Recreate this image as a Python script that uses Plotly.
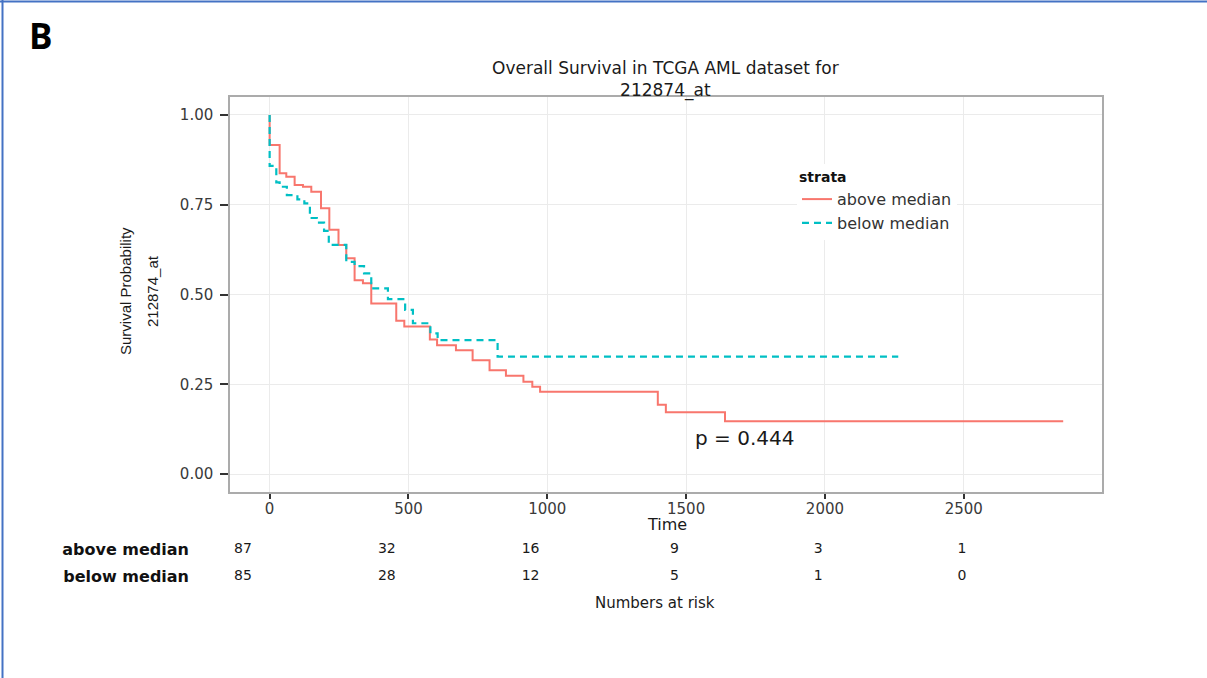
import plotly.graph_objects as go

# Kaplan-Meier step data (time in days, survival probability)
above_time = [0, 0, 36, 60, 90, 120, 150, 185, 215, 248, 276, 306, 336, 366, 456, 485,
              577, 603, 671, 731, 792, 851, 914, 946, 974, 1398, 1427, 1640, 2858]
above_surv = [1.0, 0.916, 0.838, 0.828, 0.805, 0.800, 0.786, 0.740, 0.680, 0.638, 0.601,
              0.540, 0.531, 0.475, 0.427, 0.411, 0.375, 0.359, 0.345, 0.317, 0.289, 0.274,
              0.257, 0.243, 0.229, 0.193, 0.172, 0.147, 0.147]

below_time = [0, 0, 24, 36, 62, 100, 125, 145, 170, 196, 213, 276, 306, 340, 366, 426,
              488, 516, 579, 605, 821, 2264]
below_surv = [1.0, 0.858, 0.812, 0.800, 0.777, 0.765, 0.754, 0.713, 0.700, 0.677, 0.638,
              0.591, 0.579, 0.559, 0.517, 0.487, 0.457, 0.420, 0.392, 0.373, 0.327, 0.327]

# Numbers at risk table
risk_times = [0, 500, 1000, 1500, 2000, 2500]
risk_above = [87, 32, 16, 9, 3, 1]
risk_below = [85, 28, 12, 5, 1, 0]
strata = ["above median", "below median"]

x_ticks = [0, 500, 1000, 1500, 2000, 2500]
y_ticks = [0.0, 0.25, 0.5, 0.75, 1.0]
y_ticktext = ["0.00", "0.25", "0.50", "0.75", "1.00"]

RED = "#F8766D"
CYAN = "#00BFC4"
W, H = 1207, 678
FONT = "DejaVu Sans"


def px_x(p):
    return p / W


def px_y(p):
    return 1 - p / H


fig = go.Figure()

fig.add_trace(go.Scatter(
    x=above_time, y=above_surv, mode="lines", name=strata[0],
    line=dict(color=RED, width=2, shape="hv"),
))
fig.add_trace(go.Scatter(
    x=below_time, y=below_surv, mode="lines", name=strata[1],
    line=dict(color=CYAN, width=2.2, shape="hv", dash="7px,5px"),
))

# risk table rows
for name, counts in ((strata[0], risk_above), (strata[1], risk_below)):
    fig.add_trace(go.Scatter(
        x=risk_times, y=[name] * len(risk_times), text=[str(v) for v in counts],
        mode="text", textfont=dict(family=FONT, size=14, color="#1a1a1a"),
        xaxis="x2", yaxis="y2", showlegend=False, hoverinfo="skip",
    ))

plot_left, plot_right, plot_top, plot_bottom = 230, 1102, 97, 492

axis_common = dict(
    showline=True, linecolor="#ababab", linewidth=1.5, mirror=True,
    showgrid=True, gridcolor="#ebebeb", gridwidth=1.2, zeroline=False,
    ticks="outside", tickcolor="#333333", tickwidth=1.5,
    tickfont=dict(family=FONT, size=15, color="#3a3a3a"), automargin=False,
)

fig.update_layout(
    width=W, height=H,
    margin=dict(l=0, r=0, t=0, b=0),
    paper_bgcolor="white", plot_bgcolor="white",
    showlegend=True,
    xaxis=dict(
        domain=[px_x(plot_left), px_x(plot_right)],
        range=[-142.75, 2997.75], tickvals=x_ticks, ticklen=5, ticklabelstandoff=-3,
        anchor="y", **axis_common,
    ),
    yaxis=dict(
        domain=[px_y(plot_bottom), px_y(plot_top)],
        range=[-0.05, 1.05], tickvals=y_ticks, ticktext=y_ticktext, ticklen=8,
        ticklabelstandoff=4, anchor="x", **axis_common,
    ),
    xaxis2=dict(
        domain=[px_x(plot_left), px_x(plot_right)],
        range=[-45.2, 2986.8], anchor="y2", visible=False,
    ),
    yaxis2=dict(
        domain=[px_y(589.5), px_y(535.5)], anchor="x2",
        type="category", categoryorder="array", categoryarray=[strata[1], strata[0]],
        range=[-0.5, 1.5], showgrid=False, showline=False, zeroline=False, ticks="",
        tickfont=dict(family=FONT, size=16, color="#111111", weight="bold"),
        ticklabelstandoff=40, automargin=False,
    ),
    legend=dict(
        x=px_x(797), y=px_y(164), xanchor="left", yanchor="top",
        bgcolor="white", borderwidth=0,
        font=dict(family=FONT, size=16, color="#333333"),
        title=dict(text="<b>strata</b>", font=dict(family=FONT, size=14, color="#111111")),
        tracegroupgap=0,
    ),
)

annotations = [
    dict(text="<b>B</b>", x=px_x(41), y=px_y(36), font=dict(family="Open Sans", size=35, color="#000000")),
    dict(text="Overall Survival in TCGA AML dataset for<br>212874_at", x=px_x(665), y=px_y(79),
         font=dict(family=FONT, size=17, color="#1a1a1a")),
    dict(text="Survival Probability", x=px_x(125), y=px_y(291), textangle=-90,
         font=dict(family="Liberation Sans Narrow, Liberation Sans", size=15, color="#1a1a1a")),
    dict(text="212874_at", x=px_x(152), y=px_y(291), textangle=-90,
         font=dict(family="Liberation Sans Narrow, Liberation Sans", size=15, color="#1a1a1a")),
    dict(text="Time", x=px_x(667), y=px_y(524), font=dict(family=FONT, size=16, color="#1a1a1a")),
    dict(text="Numbers at risk", x=px_x(655), y=px_y(603), font=dict(family=FONT, size=15, color="#1a1a1a")),
]
for a in annotations:
    a.update(xref="paper", yref="paper", xanchor="center", yanchor="middle", showarrow=False)
fig.update_layout(annotations=annotations)

# p-value placed in data coordinates
fig.add_annotation(text="p = 0.444", x=1711, y=0.10, xref="x", yref="y", showarrow=False,
                   font=dict(family=FONT, size=20, color="#1a1a1a"))

# frame lines along the left and top of the panel image
fig.add_shape(type="line", xref="paper", yref="paper", x0=px_x(2.5), x1=px_x(2.5), y0=0, y1=1,
              line=dict(color="#4472C4", width=2))
fig.add_shape(type="line", xref="paper", yref="paper", x0=0, x1=1, y0=px_y(1.5), y1=px_y(1.5),
              line=dict(color="#4472C4", width=2))

fig.write_html("out.html")
